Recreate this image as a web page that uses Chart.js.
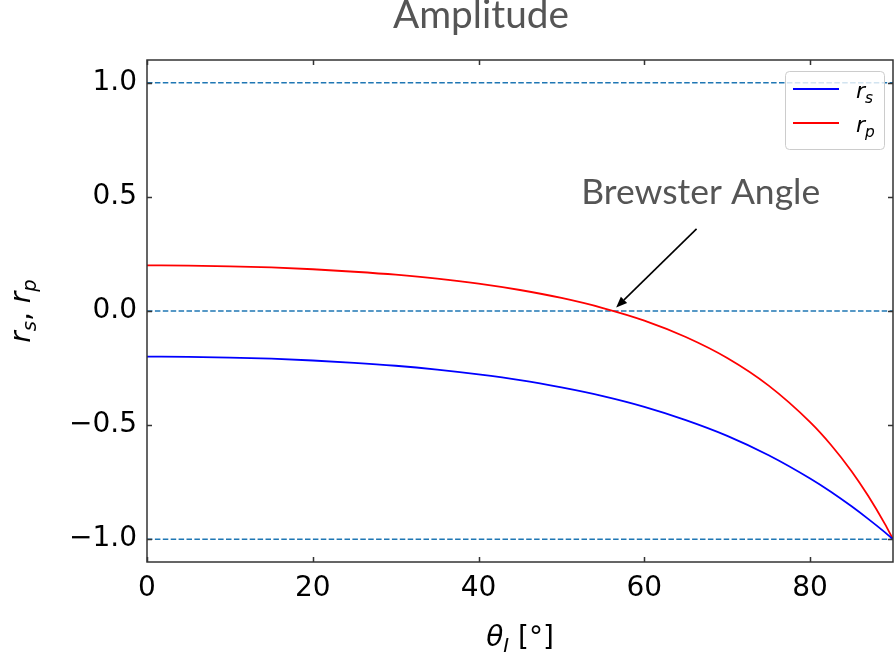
<!DOCTYPE html>
<html><head><meta charset="utf-8">
<script src="https://cdn.jsdelivr.net/npm/chart.js@4/dist/chart.umd.min.js"></script>
<style>html,body{margin:0;padding:0;background:#fff}#wrap{width:895px;height:654px;position:relative}</style>
</head><body><div id="wrap"><canvas id="c" width="895" height="654"></canvas></div>
<script>
// ---- data ----
const angles   = [0, 5, 10, 15, 20, 25, 30, 35, 40, 45, 50, 55, 60, 65, 70, 75, 80, 82.5, 85, 87, 89, 90];
const rsValues = [-0.200, -0.201, -0.204, -0.209, -0.217, -0.227, -0.240, -0.257, -0.278, -0.303, -0.335, -0.373, -0.420, -0.478, -0.547, -0.632, -0.734, -0.792, -0.856, -0.911, -0.969, -1.000];
const rpValues = [0.200, 0.199, 0.196, 0.191, 0.183, 0.172, 0.159, 0.142, 0.120, 0.092, 0.057, 0.013, -0.042, -0.114, -0.206, -0.327, -0.487, -0.586, -0.702, -0.810, -0.932, -1.000];
const refLevels = [1, 0, -1];
const xTicks = [0, 20, 40, 60, 80];
const yTicks = [-1, -0.5, 0, 0.5, 1];
const xRange = [0, 90];
const yRange = [-1.1, 1.1];
const titleText = 'Amplitude';
const annotText = 'Brewster Angle';
const brewsterPoint = [56.6, 0.015];
const arrowTail = [66.3, 0.36];
const annotTextAt = [66.8, 0.467];

function pts(ys) { return angles.map((a, i) => ({x: a, y: ys[i]})); }

const datasets = [
  {label: 'rs', data: pts(rsValues), borderColor: '#0000ff', borderWidth: 1.8, pointRadius: 0, cubicInterpolationMode: 'monotone', fill: false},
  {label: 'rp', data: pts(rpValues), borderColor: '#ff0000', borderWidth: 1.8, pointRadius: 0, cubicInterpolationMode: 'monotone', fill: false}
];
refLevels.forEach(v => datasets.push({
  label: 'ref' + v, data: [{x: xRange[0], y: v}, {x: xRange[1], y: v}],
  borderColor: '#1f77b4', borderWidth: 1.6, borderDash: [5.5, 2.4], pointRadius: 0, fill: false
}));

const MATH = "'DejaVu Sans'";
function drawMath(ctx, parts, x, y, size, align) {
  const items = parts.map(p => {
    const s = p.sub ? size * 0.7 : size;
    const f = (p.it ? 'italic ' : '') + s + 'px ' + MATH;
    ctx.font = f;
    return {t: p.t, f, w: ctx.measureText(p.t).width, dy: p.sub ? size * 0.22 : 0};
  });
  const total = items.reduce((a, b) => a + b.w, 0);
  let cx = align === 'center' ? x - total / 2 : (align === 'right' ? x - total : x);
  ctx.textAlign = 'left'; ctx.textBaseline = 'alphabetic';
  items.forEach(it => { ctx.font = it.f; ctx.fillText(it.t, cx, y + it.dy); cx += it.w; });
}

function fitText(ctx, text, family, weight, targetW) {
  ctx.font = weight + ' 100px ' + family;
  const w = ctx.measureText(text).width;
  return weight + ' ' + (100 * targetW / w).toFixed(2) + 'px ' + family;
}

const deco = {
  id: 'deco',
  afterDraw(chart) {
    const ctx = chart.ctx, a = chart.chartArea, xs = chart.scales.x, ys = chart.scales.y;
    ctx.save();
    // frame
    ctx.strokeStyle = '#333'; ctx.lineWidth = 1.5;
    ctx.strokeRect(a.left, a.top, a.right - a.left, a.bottom - a.top);
    // inward ticks
    ctx.beginPath();
    xTicks.forEach(v => { const p = Math.round(xs.getPixelForValue(v)) + 0.5;
      ctx.moveTo(p, a.bottom); ctx.lineTo(p, a.bottom - 5); ctx.moveTo(p, a.top); ctx.lineTo(p, a.top + 5); });
    yTicks.forEach(v => { const p = Math.round(ys.getPixelForValue(v)) + 0.5;
      ctx.moveTo(a.left, p); ctx.lineTo(a.left + 5, p); ctx.moveTo(a.right, p); ctx.lineTo(a.right - 5, p); });
    ctx.stroke();

    // legend
    const lx = 785, ly = 71, lw = 99, lh = 78;
    ctx.beginPath();
    ctx.roundRect(lx + 0.5, ly + 0.5, lw, lh, 4);
    ctx.fillStyle = 'rgba(255,255,255,0.8)'; ctx.fill();
    ctx.strokeStyle = '#cccccc'; ctx.lineWidth = 1; ctx.stroke();
    const legendRows = [{c: '#0000ff', sub: 's', y: 89}, {c: '#ff0000', sub: 'p', y: 123}];
    legendRows.forEach(r => {
      ctx.strokeStyle = r.c; ctx.lineWidth = 2;
      ctx.beginPath(); ctx.moveTo(793, r.y); ctx.lineTo(839, r.y); ctx.stroke();
      ctx.fillStyle = '#000';
      drawMath(ctx, [{t: 'r', it: true}, {t: r.sub, it: true, sub: true}], 856, r.y + 9, 22, 'left');
    });

    // title
    ctx.fillStyle = '#555555';
    ctx.font = fitText(ctx, titleText, 'Lato', '400', 176);
    ctx.textAlign = 'center'; ctx.textBaseline = 'alphabetic';
    ctx.fillText(titleText, 481, 28);

    // annotation
    ctx.font = fitText(ctx, annotText, 'Lato', '400', 239);
    ctx.fillText(annotText, xs.getPixelForValue(annotTextAt[0]), ys.getPixelForValue(annotTextAt[1]));
    const tx = xs.getPixelForValue(arrowTail[0]), ty = ys.getPixelForValue(arrowTail[1]);
    const hx = xs.getPixelForValue(brewsterPoint[0]), hy = ys.getPixelForValue(brewsterPoint[1]);
    const ang = Math.atan2(hy - ty, hx - tx), hl = 11, hw = 4.5;
    const bx = hx - hl * Math.cos(ang), by = hy - hl * Math.sin(ang);
    ctx.strokeStyle = '#000'; ctx.lineWidth = 1.6;
    ctx.beginPath(); ctx.moveTo(tx, ty); ctx.lineTo(bx, by); ctx.stroke();
    ctx.fillStyle = '#000';
    ctx.beginPath(); ctx.moveTo(hx, hy);
    ctx.lineTo(bx + hw * Math.sin(ang), by - hw * Math.cos(ang));
    ctx.lineTo(bx - hw * Math.sin(ang), by + hw * Math.cos(ang));
    ctx.closePath(); ctx.fill();

    // axis labels
    ctx.fillStyle = '#000';
    drawMath(ctx, [{t: '\u03b8', it: true}, {t: 'I', it: true, sub: true}, {t: ' [\u00b0]'}], (a.left + a.right) / 2, 646, 28, 'center');
    ctx.save();
    ctx.translate(30, (a.top + a.bottom) / 2);
    ctx.rotate(-Math.PI / 2);
    drawMath(ctx, [{t: 'r', it: true}, {t: 's', it: true, sub: true}, {t: ', ', it: false}, {t: 'r', it: true}, {t: 'p', it: true, sub: true}], 0, 0, 28, 'center');
    ctx.restore();
    ctx.restore();
  }
};

new Chart(document.getElementById('c'), {
  type: 'line',
  data: {datasets},
  options: {
    responsive: false, animation: false, devicePixelRatio: 1,
    layout: {padding: {top: 60, right: 2, left: 0, bottom: 0}},
    plugins: {legend: {display: false}, title: {display: false}, tooltip: {enabled: false}},
    scales: {
      x: {type: 'linear', min: xRange[0], max: xRange[1],
        afterBuildTicks: s => { s.ticks = xTicks.map(v => ({value: v})); },
        afterFit: s => { s.height = 92; },
        grid: {display: false}, border: {display: false},
        ticks: {color: '#000', font: {family: MATH, size: 28}, padding: 2, maxRotation: 0, callback: v => String(v)}},
      y: {type: 'linear', min: yRange[0], max: yRange[1],
        afterBuildTicks: s => { s.ticks = yTicks.map(v => ({value: v})); },
        afterFit: s => { s.width = 147; },
        grid: {display: false}, border: {display: false},
        ticks: {color: '#000', font: {family: MATH, size: 28}, padding: 2, callback: v => (v < 0 ? '\u2212' : '') + Math.abs(v).toFixed(1)}}
    }
  },
  plugins: [deco]
});
</script></body></html>
